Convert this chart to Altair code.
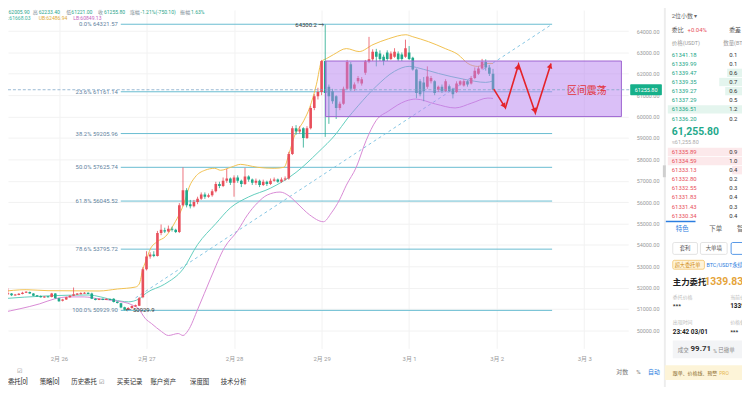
import math
import altair as alt
import pandas as pd

# ---------------------------------------------------------------- data
# x values are hours since 2024-02-25 00:00; first hourly candle at 08:00
START_HOUR = 8
OPEN = [
    51600, 51650, 51690, 51720, 51640, 51660, 51700, 51760, 51790, 51720,
    51620, 51600, 51550, 51570, 51560, 51720, 51500, 51380, 51440, 51540,
    51620, 51680, 51700, 51730, 51740, 51720, 51480, 51430, 51460, 51430,
    51460, 51480, 51330, 51260, 51080, 50980, 51040, 51130, 51150, 51550,
    52850, 53450, 53550, 53480, 54550, 54680, 54620, 54750, 54700, 54600,
    55850, 56550, 55900, 55800, 56000, 56150, 56350, 56250, 56320, 56500,
    56850, 56750, 57000, 57100, 56900, 57150, 57000, 56850, 57200, 57050,
    56900, 57000, 56800, 56950, 56850, 57000, 57050, 56950, 57050, 57100,
    58250, 59450, 59300, 59450, 59000, 59450, 60400, 60950, 61150, 62600,
    61400, 61180, 60950, 60400, 60600, 61300, 62450, 61300, 61650, 61550,
    62050, 62580, 62680, 63030, 62950, 62800, 63000, 62700, 62800, 62950,
    62900, 62800, 63000, 62750, 62200, 61650, 61600, 61400, 61650, 61650,
    61250, 61400, 61200, 61420, 61300, 61150, 61500, 61450, 61650, 61550,
    61800, 62000, 62250, 62550, 62300, 62005.9]
HIGH = [
    51720, 51760, 51970, 51740, 51700, 51740, 51800, 51830, 51810, 51740,
    51650, 51630, 51600, 51600, 51750, 51740, 51520, 51470, 51570, 51650,
    52000, 51740, 51780, 51790, 51770, 51760, 51500, 51490, 51480, 51490,
    51480, 51500, 51350, 51280, 51100, 51080, 51160, 51200, 51560, 52950,
    53700, 53650, 53700, 54650, 54950, 54800, 54900, 54850, 54750, 55950,
    57620, 56650, 56100, 56100, 56250, 56450, 56450, 56400, 56600, 56950,
    56950, 57150, 57550, 57150, 57250, 57250, 57050, 57600, 57250, 57100,
    57100, 57050, 57050, 57000, 57100, 57150, 57100, 57150, 57200, 58350,
    59550, 59600, 59550, 59500, 59550, 60500, 61050, 61350, 62650, 64300.2,
    61500, 61300, 61000, 60700, 61400, 62650, 62550, 61600, 61900, 61850,
    62650, 63730, 63150, 63170, 63100, 62900, 63100, 63050, 63200, 63050,
    63000, 63600, 63300, 62800, 62250, 61750, 61850, 62350, 61900, 61700,
    61450, 61500, 61750, 61500, 61350, 61650, 61700, 61750, 61700, 61900,
    62300, 62350, 62700, 62680, 62400, 62233.4]
LOW = [
    51560, 51620, 51660, 51600, 51620, 51640, 51680, 51740, 51700, 51600,
    51570, 51530, 51520, 51530, 51540, 51480, 51330, 51350, 51420, 51520,
    51600, 51650, 51680, 51700, 51690, 51460, 51400, 51410, 51410, 51420,
    51400, 51300, 51250, 51030, 50929.9, 50950, 51010, 51100, 51130, 51500,
    52800, 53350, 53420, 53450, 54450, 54550, 54580, 54620, 54550, 54550,
    55800, 55750, 55700, 55750, 55900, 56100, 56150, 56200, 56250, 56450,
    56650, 56700, 56900, 56800, 56250, 56900, 56700, 56800, 56950, 56800,
    56800, 56700, 56750, 56750, 56800, 56950, 56900, 56900, 57000, 57050,
    58200, 59150, 59200, 58550, 58950, 59400, 60300, 60800, 61000, 59050,
    59660, 60600, 59890, 60300, 60550, 61250, 61200, 61200, 61550, 61450,
    61950, 62500, 62600, 62350, 62600, 62400, 62600, 62650, 62750, 62600,
    62600, 62750, 62650, 62150, 60860, 60950, 60720, 61300, 61550, 61000,
    61150, 61100, 61150, 61150, 60850, 61100, 61450, 61400, 61400, 61500,
    61750, 61950, 62200, 62150, 61900, 61221.0]
CLOSE = [
    51680, 51700, 51720, 51640, 51660, 51700, 51760, 51790, 51720, 51620,
    51600, 51550, 51570, 51560, 51720, 51500, 51360, 51440, 51540, 51620,
    51680, 51700, 51730, 51740, 51710, 51480, 51420, 51460, 51430, 51460,
    51420, 51320, 51270, 51060, 50960, 51040, 51130, 51150, 51500, 52850,
    53450, 53550, 53480, 54550, 54700, 54620, 54750, 54700, 54600, 55850,
    56550, 55850, 55800, 56000, 56150, 56350, 56250, 56320, 56500, 56850,
    56750, 57000, 57100, 56900, 57150, 57000, 56850, 57200, 57050, 56900,
    57000, 56800, 56950, 56850, 57000, 57050, 56950, 57050, 57100, 58250,
    59450, 59300, 59400, 59000, 59450, 60400, 60950, 61150, 62600, 61100,
    60950, 60720, 60400, 60600, 61300, 62550, 61300, 61500, 61800, 61750,
    62580, 62680, 63030, 62800, 62700, 62600, 62700, 62950, 63030, 62680,
    62700, 63200, 62700, 62200, 61100, 61050, 61200, 61880, 61800, 61100,
    61400, 61200, 61650, 61200, 61050, 61550, 61650, 61650, 61500, 61800,
    62150, 62250, 62550, 62300, 62005.9, 61255.8]

MID_H = [8, 21, 32, 39, 43, 46, 48, 53, 58, 62, 67, 71, 76, 82, 89, 95, 100,
         103, 106, 111, 116, 120, 124, 128, 135, 141, 143]
MID_P = [51470, 51610, 51650, 51420, 51330, 51470, 51750, 52160, 52860, 54010,
         54990, 55730, 56240, 56650, 57390, 58320, 59200, 59890, 60500, 61420,
         62120, 62350, 62210, 62020, 61750, 61600, 61668.03]
UB_H = [8, 15, 21, 35, 40, 45, 46, 47, 48, 49, 51, 53.2, 55.9, 57.8, 58.6, 59.7,
        61.3, 64, 66.7, 68.3, 71.1, 73.8, 75.7, 78.4, 83, 85.7, 87.1, 88.4, 91.1,
        92.7, 94.6, 96, 97.4, 99.3, 102.8, 106.3, 110.1, 114.4, 119.1, 121, 125.3,
        129.9, 133.4, 136.1, 138.8, 141.6, 143]
UB_P = [51806, 51898, 51852, 51838, 51930, 52023, 52162, 52857, 53320, 53783,
        54153, 54385, 55079, 55727, 56098, 56700, 57163, 57487, 57579, 57487,
        57626, 57764, 57718, 57626, 57579, 57626, 58274, 59015, 59802, 60404,
        61515, 62580, 62719, 62904, 63182, 63043, 63367, 63645, 63830, 63737,
        63506, 63182, 62904, 62487, 62348, 62487, 62486.94]
LB_H = [8, 13.3, 18.7, 22.8, 26.8, 30.9, 35, 39.6, 44, 45.8, 47.7, 49.4, 52.1,
        54, 56.7, 58, 59.4, 62.1, 65.6, 69.4, 73, 75.7, 78.4, 81.1, 84.6, 87.1,
        89.2, 92.7, 96.5, 98.7, 100.9, 102.8, 105.5, 108.2, 110.9, 114.4, 119.1,
        121.8, 127.2, 132.6, 137.2, 141.6, 143]
LB_P = [50820, 51005, 51236, 51468, 51560, 51560, 51468, 51375, 51190, 51005,
        50542, 50310, 49940, 49755, 49847, 49755, 49986, 51005, 52440, 53875,
        54662, 55403, 55958, 56329, 56468, 56283, 55958, 55403, 55079, 55496,
        56098, 56792, 57626, 58876, 59802, 60265, 60728, 60820, 60589, 60404,
        60635, 60867, 60849.13]

FIB_PCT = ["0.0%", "23.6%", "38.2%", "50.0%", "61.8%", "78.6%", "100.0%"]
FIB_PRICE = [64321.57, 61161.14, 59205.96, 57625.74, 56045.52, 53795.72, 50929.90]
FIB_SPAN_H = [40.95, 159.2]

TREND_H = [45.0, 158.9]
TREND_P = [51514, 64290]
BOX_H = [97.1, 178.2]
BOX_P = [60000, 62600]
BOX_LABEL = "区间震荡"
BOX_LABEL_AT = [168.7, 61190]
ZZ_H = [143.2, 146.4, 150.0, 154.6, 158.9]
ZZ_P = [61283, 60404, 62441, 60172, 62487]

LAST_PRICE = 61255.80
DAY_H = [24, 48, 72, 96, 120, 144, 168]
DAY_LABELS = ["2月 26", "2月 27", "2月 28", "2月 29", "3月 1", "3月 2", "3月 3"]
PRICE_TICKS = list(range(50000, 65000, 1000))

ASK_PRICE = ["61341.18", "61339.99", "61339.47", "61339.35", "61339.27",
             "61337.29", "61336.51", "61336.20"]
ASK_QTY = ["0.1", "0.1", "0.6", "0.7", "0.6", "0.5", "1.2", "0.2"]
BID_PRICE = ["61335.89", "61334.59", "61333.13", "61332.80", "61332.55",
             "61331.83", "61331.43", "61330.34"]
BID_QTY = ["0.9", "1.0", "0.4", "0.2", "0.3", "0.4", "0.3", "0.4"]

# ---------------------------------------------------------------- style / layout
FONT = "Roboto, 'Noto Sans CJK SC', sans-serif"
RED = "#e84f5b"
GREEN = "#1fa98b"
MID_C = "#62cdbd"
UB_C = "#f1c04f"
LB_C = "#d88ad5"
FIB_C = "#68bcd0"
FIB_T = "#5f82a0"
TREND_C = "#86c5e3"
BLUE = "#2b7de0"
ZZ_C = "#e5232a"

OFF = 8              # page margin
W, H = 627, 342      # price plot area
TOTAL_W, TOTAL_H = 742, 379
X_MIN, X_MAX = 10.03, 180.07
Y_MAX = 64986.1
Y_MIN = 49152.8
PX_H = W / (X_MAX - X_MIN)
PX_P = H / (Y_MAX - Y_MIN)

XS = alt.Scale(domain=[X_MIN, X_MAX], nice=False, zero=False)
YS = alt.Scale(domain=[Y_MIN, Y_MAX], nice=False, zero=False)

label_expr = ""
for hh, lab in zip(DAY_H, DAY_LABELS):
    label_expr += f"datum.value == {hh} ? '{lab}' : "
label_expr += "''"

XAX = alt.Axis(values=DAY_H, labelExpr=label_expr, grid=True, gridColor="#f2f2f2",
               domain=False, ticks=False, labelFontSize=6, labelColor="#9a9a9a",
               labelPadding=7, labelFont=FONT, title=None, labelOverlap=False,
               labelFlush=False)
YAX = alt.Axis(orient="right", values=PRICE_TICKS, format=".2f", grid=True,
               gridColor="#f2f2f2", domain=False, ticks=False, labelFontSize=5.5,
               labelColor="#9a9a9a", labelPadding=8, labelFont=FONT, title=None,
               labelOverlap=False)


def X(f):
    return alt.X(f, type="quantitative", scale=XS, axis=XAX, title=None)


def Y(f):
    return alt.Y(f, type="quantitative", scale=YS, axis=YAX, title=None)


layers = []

# fib levels
fib = pd.DataFrame({"p": FIB_PRICE, "pct": FIB_PCT})
fib["h0"] = FIB_SPAN_H[0]
fib["h1"] = FIB_SPAN_H[1]
fib["lab"] = [f"{a} {b:.2f}" for a, b in zip(FIB_PCT, FIB_PRICE)]
layers.append(alt.Chart(fib).mark_rule(color=FIB_C, strokeWidth=1).encode(
    x=X("h0"), x2="h1:Q", y=Y("p")))
layers.append(alt.Chart(fib).mark_text(align="right", dx=-3, fontSize=6, color=FIB_T,
                                       font=FONT).encode(x=X("h0"), y=Y("p"), text="lab:N"))

# trend line
tr = pd.DataFrame({"h": TREND_H, "p": TREND_P})
layers.append(alt.Chart(tr).mark_line(color=TREND_C, strokeWidth=1, strokeDash=[3, 3],
                                      clip=True).encode(x=X("h"), y=Y("p")))

# bollinger
for hs, ps, col in [(MID_H, MID_P, MID_C), (UB_H, UB_P, UB_C), (LB_H, LB_P, LB_C)]:
    d = pd.DataFrame({"h": hs, "p": ps})
    layers.append(alt.Chart(d).mark_line(color=col, strokeWidth=1, clip=True,
                                         interpolate="monotone").encode(x=X("h"), y=Y("p")))

# candles
cd = pd.DataFrame({"h": [START_HOUR + k for k in range(len(OPEN))],
                   "o": OPEN, "hi": HIGH, "lo": LOW, "c": CLOSE})
cd["x0"] = cd.h - 0.36
cd["x1"] = cd.h + 0.36
cd["bt"] = cd[["o", "c"]].max(axis=1)
cd["bb"] = cd[["o", "c"]].min(axis=1)
small = (cd.bt - cd.bb) < 50
mid = (cd.bt + cd.bb) / 2
cd.loc[small, "bt"] = mid[small] + 25
cd.loc[small, "bb"] = mid[small] - 25
up = cd[cd.c >= cd.o]
dn = cd[cd.c < cd.o]
for d, col in [(up, RED), (dn, GREEN)]:
    layers.append(alt.Chart(d).mark_rule(color=col, strokeWidth=0.8, clip=True).encode(
        x=X("h"), y=Y("lo"), y2="hi:Q"))
    layers.append(alt.Chart(d).mark_rect(color=col, clip=True).encode(
        x=X("x0"), x2="x1:Q", y=Y("bb"), y2="bt:Q"))

# range box overlay
bx = pd.DataFrame({"h0": [BOX_H[0]], "h1": [BOX_H[1]], "p0": [BOX_P[0]], "p1": [BOX_P[1]]})
layers.append(alt.Chart(bx).mark_rect(fill="#b57ff0", fillOpacity=0.5, stroke="#9d63d0",
                                      strokeWidth=1).encode(
    x=X("h0"), x2="h1:Q", y=Y("p1"), y2="p0:Q"))

# last price dashed line
lp = pd.DataFrame({"p": [LAST_PRICE]})
layers.append(alt.Chart(lp).mark_rule(color="#7fa6c9", strokeWidth=0.8,
                                      strokeDash=[3, 2]).encode(
    y=Y("p"), x=alt.value(0), x2=alt.value(629)))

# zigzag
zz = pd.DataFrame({"k": list(range(len(ZZ_H))), "h": ZZ_H, "p": ZZ_P})
layers.append(alt.Chart(zz).mark_line(color=ZZ_C, strokeWidth=1.6).encode(
    x=X("h"), y=Y("p"), order="k:Q"))
heads = []
for j in range(1, len(ZZ_H)):
    dx = (ZZ_H[j] - ZZ_H[j - 1]) * PX_H
    dy = -(ZZ_P[j] - ZZ_P[j - 1]) * PX_P
    ln = math.hypot(dx, dy)
    ux, uy = dx / ln, dy / ln
    ang = (math.degrees(math.atan2(dx, -dy)) + 360) % 360
    heads.append({"h": ZZ_H[j] - ux * 2.5 / PX_H, "p": ZZ_P[j] + uy * 2.5 / PX_P, "a": ang})
layers.append(alt.Chart(pd.DataFrame(heads)).mark_point(
    shape="triangle-up", filled=True, size=34, color=ZZ_C, opacity=1).encode(
    x=X("h"), y=Y("p"), angle=alt.Angle("a:Q", scale=None)))

# box label
bl = pd.DataFrame({"h": [BOX_LABEL_AT[0]], "p": [BOX_LABEL_AT[1]], "t": [BOX_LABEL]})
layers.append(alt.Chart(bl).mark_text(fontSize=10, color="#e2353b", font=FONT).encode(
    x=X("h"), y=Y("p"), text="t:N"))

# high / low markers
hi_i = HIGH.index(max(HIGH))
lo_i = LOW.index(min(LOW))
hl = pd.DataFrame({"h": [START_HOUR + hi_i], "p": [HIGH[hi_i]], "t": [f"{HIGH[hi_i]:.1f} →"]})
ll = pd.DataFrame({"h": [START_HOUR + lo_i], "p": [LOW[lo_i]], "t": [f"← {LOW[lo_i]:.1f}"]})
layers.append(alt.Chart(hl).mark_text(align="right", dx=-1, fontSize=6, color="#333",
                                      font=FONT).encode(x=X("h"), y=Y("p"), text="t:N"))
layers.append(alt.Chart(ll).mark_text(align="left", dx=1, fontSize=6, color="#333",
                                      font=FONT).encode(x=X("h"), y=Y("p"), text="t:N"))

# price tag
half = 5.5 / PX_P
tag = pd.DataFrame({"t": [LAST_PRICE + half], "b": [LAST_PRICE - half],
                    "p": [LAST_PRICE], "s": [f"{LAST_PRICE:.2f}"]})
layers.append(alt.Chart(tag).mark_rect(color="#16b08a", cornerRadius=1).encode(
    y=Y("t"), y2="b:Q", x=alt.value(629), x2=alt.value(661)))
layers.append(alt.Chart(tag).mark_text(color="white", fontSize=5.5, font=FONT).encode(
    y=Y("p"), x=alt.value(645), text="s:N"))


# ---------------------------------------------------------------- UI chrome
def ui_rects(items, stroke=False, radius=0):
    cols = ["x1", "y1", "x2", "y2", "f"] + (["s"] if stroke else [])
    df = pd.DataFrame(items, columns=cols)
    for c in ["x1", "x2", "y1", "y2"]:
        df[c] = df[c] - OFF
    enc = dict(x=alt.X("x1:Q", scale=None, axis=None), x2="x2:Q",
               y=alt.Y("y1:Q", scale=None, axis=None), y2="y2:Q",
               color=alt.Color("f:N", scale=None, legend=None))
    if stroke:
        enc["stroke"] = alt.Stroke("s:N", scale=None, legend=None)
    return alt.Chart(df).mark_rect(cornerRadius=radius,
                                   strokeWidth=0.8 if stroke else 0).encode(**enc)


def ui_text(items, align="left", weight="normal"):
    df = pd.DataFrame(items, columns=["t", "x", "y", "s", "c"])
    df["x"] = df["x"] - OFF
    df["y"] = df["y"] - OFF
    return alt.Chart(df).mark_text(align=align, baseline="middle", fontWeight=weight,
                                   font=FONT).encode(
        x=alt.X("x:Q", scale=None, axis=None),
        y=alt.Y("y:Q", scale=None, axis=None),
        text="t:N",
        size=alt.Size("s:Q", scale=None, legend=None),
        color=alt.Color("c:N", scale=None, legend=None))


ASK_Y = [53 + 9.25 * k for k in range(len(ASK_PRICE))]
BID_Y = [151.5 + 9.2 * k for k in range(len(BID_PRICE))]
AB = "#e4f5ee"
BB = "#fce9eb"
rects = [
    (671, 0, 673, 395, "#ededed"),
    (670, 165, 673, 177, "#cfcfcf"),
    (735, ASK_Y[2] - 4.2, 750, ASK_Y[2] + 4.2, AB),
    (727, ASK_Y[3] - 4.2, 750, ASK_Y[3] + 4.2, AB),
    (733, ASK_Y[4] - 4.2, 750, ASK_Y[4] + 4.2, AB),
    (675, ASK_Y[6] - 4.2, 750, ASK_Y[6] + 4.2, AB),
    (675, BID_Y[0] - 4.2, 750, BID_Y[0] + 4.2, BB),
    (675, BID_Y[1] - 4.2, 750, BID_Y[1] + 4.2, BB),
    (740, BID_Y[2] - 4.2, 750, BID_Y[2] + 4.2, BB),
    (673, 221, 703, 222.5, BLUE),
    (680, 342, 752, 360, "#f3f4f6"),
    (672, 367, 750, 382, "#fdf4d8"),
]
layers.append(ui_rects(rects))
layers.append(ui_rects([
    (680, 243, 705, 255, "#ffffff", "#dddddd"),
    (708, 243, 735, 255, "#ffffff", "#dddddd"),
    (739, 243, 752, 255, "#ffffff", BLUE),
    (680, 261, 712, 270, "#fff4d9", "#f2c46b"),
], stroke=True, radius=1.5))

G = "#7a8a94"
V = "#2aa58b"
HF = 5.1
L1 = 10.4
L2 = 15.8
texts = [
    # header lines
    ("62005.90", 8.5, L1, HF, V), ("高", 33, L1, HF, G), ("62233.40", 39, L1, HF, V),
    ("低", 67, L1, HF, G), ("61221.00", 72, L1, HF, V), ("收", 99, L1, HF, G),
    ("61255.80", 105, L1, HF, V), ("涨幅", 131, L1, HF, G),
    ("-1.21%(-750.10)", 142, L1, HF, V), ("振幅", 182, L1, HF, G),
    ("1.63%", 193, L1, HF, V),
    ("BOLL:61668.03", -4, L2, HF, "#3bb39c"), ("UB:62486.94", 39, L2, HF, "#e0a935"),
    ("LB:60849.13", 74, L2, HF, "#c563c0"),
    # bottom rows
    ("RSI", -3, 373, 6, "#666"), ("☑", 17, 373, 6, "#888"),
    ("对数", 623, 374, 6, "#777"), ("%", 643, 374, 6, "#777"), ("自动", 655, 374, 6, BLUE),
    ("当前委托[0]", -5, 384, 6.5, "#333"), ("策略[0]", 40, 384, 6.5, "#333"),
    ("历史委托", 72, 384, 6.5, "#333"), ("☑", 100, 384, 6.5, "#777"),
    ("买卖记录", 118, 384, 6.5, "#333"), ("账户资产", 152, 384, 6.5, "#333"),
    ("深度图", 192, 384, 6.5, "#333"), ("技术分析", 223, 384, 6.5, "#333"),
    # side panel
    ("2位小数 ▾", 679, 14, 6, "#666"),
    ("委比", 679, 28, 6, "#555"), ("+0.04%", 695, 28, 6, RED), ("委差", 737, 28, 6, "#555"),
    ("价格(USDT)", 679, 41, 5.5, "#999"), ("数量(BTC)", 731, 41, 5.5, "#999"),
    ("≈61,255.80", 679, 141.5, 5.5, "#aaa"),
    ("特色", 683, 229, 6.5, BLUE), ("下单", 717, 229, 6.5, "#666"), ("智", 745, 229, 6.5, "#666"),
    ("超大委托单", 682, 265.5, 5.2, "#d08b16"), ("BTC/USDT永续", 714, 265.5, 5.5, BLUE),
    ("委托价格", 680, 298, 5, "#bbb"), ("当前价格", 738, 298, 5, "#bbb"),
    ("出现时间", 680, 323, 5, "#bbb"), ("价格偏离", 738, 323, 5, "#bbb"),
    ("成交", 685, 351.5, 5.5, "#888"), ("%", 721, 352.5, 5, "#888"),
    ("已撤单", 726, 351.5, 5.5, "#888"),
    ("跟单、价格线、预警", 680, 375, 5, "#8a6a2a"), ("PRO", 727, 375, 5, "#e5b450"),
]
for p, q, y in zip(ASK_PRICE, ASK_QTY, ASK_Y):
    texts.append((p, 679, y, 6, "#22a688"))
    texts.append((q, 737, y, 6, "#333"))
for p, q, y in zip(BID_PRICE, BID_QTY, BID_Y):
    texts.append((p, 679, y, 6, RED))
    texts.append((q, 737, y, 6, "#333"))
layers.append(ui_text(texts))
layers.append(ui_text([
    ("61,255.80", 679, 131, 10.5, GREEN),
    ("主力委托", 680, 283, 8.5, "#222"), ("1339.83", 712, 283, 10.5, "#e5a43a"),
    ("***", 680, 307.5, 6, "#222"), ("1339.83", 738, 307, 6.5, "#222"),
    ("23:42 03/01", 680, 333.5, 6.5, "#222"), ("***", 738, 333.5, 6, "#222"),
    ("99.71", 698, 351, 8, "#333"),
], weight="bold"))
layers.append(ui_text([("套利", 692.5, 249, 5.5, "#555"), ("大单墙", 721.5, 249, 5.5, "#555")],
                      align="center"))

chart = alt.layer(*layers).properties(
    width=W, height=H,
    autosize=alt.AutoSizeParams(type="none"),
    padding={"left": 0, "top": 0, "right": TOTAL_W - W, "bottom": TOTAL_H - H},
).configure_view(stroke=None)

chart.save("out.html", embed_options={"renderer": "svg", "actions": False})
